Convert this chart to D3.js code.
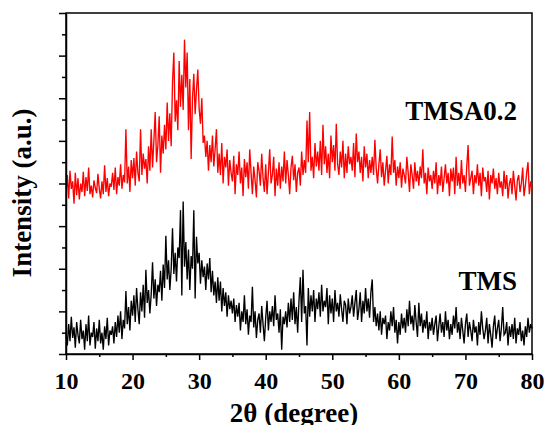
<!DOCTYPE html>
<html>
<head>
<meta charset="utf-8">
<script src="https://cdn.jsdelivr.net/npm/d3@7"></script>
<style>
  body { margin: 0; background: #fff; }
  svg { display: block; }
  .axis text { font-family: "Liberation Serif", "Times New Roman", serif; font-weight: bold; font-size: 24px; fill: #000; }
  .axis path, .axis line { stroke: #000; stroke-width: 1.5; }
</style>
</head>
<body>
<svg id="chart" width="546" height="425"></svg>
<script>
// XRD scan grid: 2θ from 10° to 80° in 0.2° steps
const scanStart = 10;
const scanStep = 0.2;

// Intensity (a.u.), one row per degree (10.0, 10.2, 10.4, 10.6, 10.8)
const tmsa02 = [
  150, 168, 146, 172, 155,
  162, 141, 170, 149, 165,
  145, 160, 152, 171, 148,
  166, 153, 175, 150, 158,
  147, 163, 156, 151, 169,
  155, 146, 162, 150, 177,
  152, 165, 148, 160, 157,
  170, 154, 175, 150, 166,
  158, 178, 155, 168, 161,
  211, 160, 176, 152, 182,
  165, 184, 158, 190, 170,
  162, 211, 168, 188, 174,
  183, 160, 195, 172, 211,
  175, 200, 227, 180, 196,
  223, 170, 205, 188, 215,
  192, 236, 200, 226, 195,
  255, 283, 218, 238, 210,
  275, 232, 262, 229, 295,
  250, 283, 210, 258, 183,
  240, 263, 225, 248, 267,
  230, 216, 240, 198, 205,
  185, 200, 172, 196, 180,
  205, 176, 192, 211, 170,
  188, 168, 198, 160, 185,
  175, 192, 158, 182, 170,
  162, 186, 150, 178, 168,
  190, 160, 175, 148, 183,
  166, 180, 155, 192, 170,
  150, 176, 163, 147, 180,
  172, 158, 188, 165, 152,
  178, 150, 170, 192, 160,
  168, 185, 148, 174, 158,
  180, 155, 176, 162, 190,
  160, 182, 168, 150, 175,
  186, 163, 178, 152, 170,
  175, 158, 190, 168, 182,
  170, 219, 180, 227, 172,
  185, 165, 198, 176, 190,
  172, 200, 168, 215, 178,
  195, 170, 188, 165, 205,
  180, 196, 172, 216, 178,
  168, 190, 175, 200, 165,
  188, 170, 195, 178, 185,
  172, 198, 166, 207, 180,
  190, 170, 185, 162, 195,
  175, 188, 165, 182, 170,
  185, 168, 201, 174, 160,
  178, 192, 166, 180, 158,
  172, 186, 160, 178, 168,
  204, 170, 182, 158, 176,
  165, 180, 156, 174, 168,
  160, 185, 170, 152, 178,
  168, 155, 180, 162, 172,
  158, 176, 165, 192, 160,
  170, 150, 175, 162, 168,
  155, 172, 160, 180, 150,
  168, 158, 176, 152, 165,
  178, 160, 170, 148, 174,
  162, 175, 150, 185, 158,
  170, 155, 182, 160, 168,
  152, 176, 196, 158, 165,
  172, 150, 168, 160, 178,
  158, 170, 148, 175, 162,
  166, 152, 172, 145, 168,
  160, 174, 155, 165, 150,
  170, 156, 162, 148, 172,
  155, 168, 146, 160, 165,
  150, 172, 158, 144, 163,
  168, 152, 160, 175, 148,
  158, 170, 180, 150, 162,
  155
];

const tms = [
  20, 8, 28, 12, 35,
  15, 25, 6, 30, 18,
  10, 32, 14, 22, 4,
  28, 12, 36, 8, 20,
  16, 30, 5, 24, 12,
  32, 10, 20, 4, 26,
  14, 34, 8, 22, 18,
  26, 10, 30, 16, 36,
  20, 40, 14, 32, 24,
  59, 28, 44, 22, 50,
  36, 55, 30, 62, 42,
  28, 58, 40, 65, 34,
  79, 48, 60, 38, 56,
  86, 52, 70, 45, 65,
  58, 78, 50, 84, 62,
  111, 70, 88, 60, 80,
  118, 75, 95, 68, 100,
  90, 135, 55, 143, 82,
  105, 70, 98, 60, 92,
  80, 135, 52, 110, 85,
  95, 66, 88, 72, 82,
  60, 85, 70, 90, 58,
  78, 55, 68, 48, 72,
  50, 68, 40, 62, 45,
  58, 35, 55, 42, 50,
  38, 52, 30, 46, 35,
  48, 22, 40, 30, 55,
  28, 42, 18, 36, 30,
  63, 25, 40, 15, 32,
  38, 20, 45, 28, 12,
  34, 50, 22, 40, 30,
  45, 26, 55, 32, 38,
  20, 42, 4, 35, 28,
  40, 25, 48, 30, 52,
  32, 58, 28, 44, 20,
  50, 72, 30, 79, 38,
  45, 8, 62, 35, 55,
  40, 60, 30, 52, 42,
  58, 35, 65, 40, 50,
  44, 62, 28, 55, 38,
  52, 30, 60, 40, 48,
  35, 56, 42, 30, 50,
  46, 28, 52, 38, 44,
  55, 35, 48, 60, 32,
  42, 58, 30, 50, 38,
  62, 40, 52, 34, 58,
  70, 30, 44, 26, 38,
  22, 40, 18, 34, 28,
  36, 14, 30, 22, 40,
  26, 44, 20, 32, 10,
  30, 18, 38, 24, 34,
  20, 42, 26, 50, 28,
  36, 22, 46, 30, 16,
  48, 26, 38, 20, 32,
  24, 40, 14, 30, 22,
  34, 18, 28, 36, 12,
  26, 38, 20, 30, 16,
  40, 22, 32, 14, 28,
  18, 36, 24, 44, 20,
  30, 14, 34, 22, 10,
  28, 38, 16, 30, 22,
  12, 32, 20, 26, 8,
  30, 18, 40, 24, 14,
  22, 34, 10, 28, 18,
  6, 26, 36, 14, 24,
  32, 12, 24, 44, 18,
  20, 30, 8, 26, 16,
  28, 14, 34, 10, 24,
  18, 30, 12, 22, 8,
  26, 16, 34, 20, 28,
  24
];

const xMajorTicks = [10, 20, 30, 40, 50, 60, 70, 80];
const xMinorTicks = [15, 25, 35, 45, 55, 65, 75];
const yMajorTicks = [0, 40, 80, 120, 160, 200, 240, 280, 320];
const yMinorTicks = [20, 60, 100, 140, 180, 220, 260, 300];

const series = [
  { name: "TMSA0.2", values: tmsa02, color: "#ff0000", label: [517, 120] },
  { name: "TMS", values: tms, color: "#000000", label: [517, 290] }
];

const svg = d3.select("#chart");
const plot = { left: 66, right: 532, top: 13, bottom: 354 };

const x = d3.scaleLinear().domain([10, 80]).range([plot.left, plot.right]);
const y = d3.scaleLinear().domain([0, 320]).range([plot.bottom, plot.top]);

// frame
svg.append("rect")
  .attr("x", plot.left).attr("y", plot.top)
  .attr("width", plot.right - plot.left).attr("height", plot.bottom - plot.top)
  .attr("fill", "none").attr("stroke", "#000").attr("stroke-width", 1.5);

// patterns
const line = d3.line()
  .x((d, i) => x(scanStart + i * scanStep))
  .y(d => y(d));

series.forEach(s => {
  svg.append("path")
    .datum(s.values)
    .attr("fill", "none")
    .attr("stroke", s.color)
    .attr("stroke-width", 1.35)
    .attr("stroke-linejoin", "miter")
    .attr("d", line);
});

// bottom axis: minor then major
svg.append("g").attr("class", "axis")
  .attr("transform", `translate(0,${plot.bottom})`)
  .call(d3.axisBottom(x).tickValues(xMinorTicks).tickSize(3).tickFormat(""))
  .select(".domain").remove();
const gx = svg.append("g").attr("class", "axis")
  .attr("transform", `translate(0,${plot.bottom})`)
  .call(d3.axisBottom(x).tickValues(xMajorTicks).tickSize(6).tickSizeOuter(0).tickFormat(d3.format("d")));
gx.selectAll("text").attr("dy", null).attr("y", 35);

// left axis: unlabeled intensity ticks
svg.append("g").attr("class", "axis")
  .attr("transform", `translate(${plot.left},0)`)
  .call(d3.axisLeft(y).tickValues(yMinorTicks).tickSize(4).tickFormat(""))
  .select(".domain").remove();
svg.append("g").attr("class", "axis")
  .attr("transform", `translate(${plot.left},0)`)
  .call(d3.axisLeft(y).tickValues(yMajorTicks).tickSize(7).tickSizeOuter(0).tickFormat(""));

// series labels
series.forEach(s => {
  svg.append("text")
    .attr("x", s.label[0]).attr("y", s.label[1])
    .attr("text-anchor", "end")
    .attr("font-family", "Liberation Serif, Times New Roman, serif")
    .attr("font-weight", "bold")
    .attr("font-size", 27)
    .text(s.name);
});

// axis titles
svg.append("text")
  .attr("x", 294).attr("y", 422)
  .attr("text-anchor", "middle")
  .attr("font-family", "Liberation Serif, Times New Roman, serif")
  .attr("font-weight", "bold")
  .attr("font-size", 27)
  .text("2θ (degree)");

svg.append("text")
  .attr("transform", "translate(31,193) rotate(-90)")
  .attr("text-anchor", "middle")
  .attr("font-family", "Liberation Serif, Times New Roman, serif")
  .attr("font-weight", "bold")
  .attr("font-size", 27)
  .text("Intensity (a.u.)");
</script>
</body>
</html>
